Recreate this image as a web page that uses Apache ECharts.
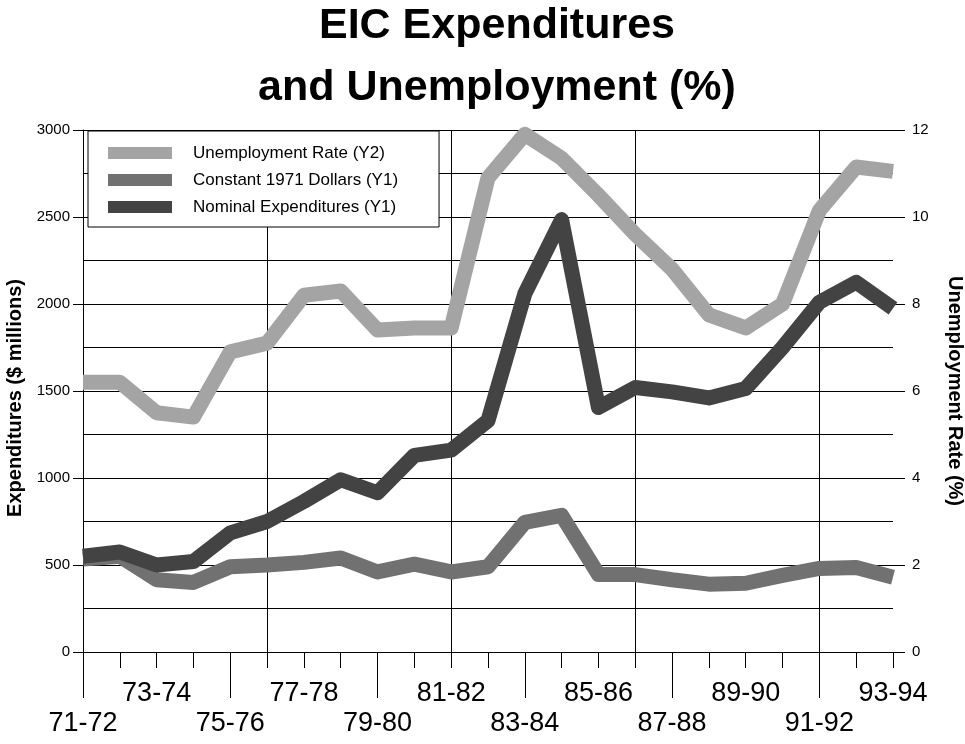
<!DOCTYPE html>
<html>
<head>
<meta charset="utf-8">
<script src="https://cdn.jsdelivr.net/npm/echarts@6/dist/echarts.min.js"></script>
<style>
html,body{margin:0;padding:0;background:#fff;}
#chart{width:965px;height:744px;}
</style>
</head>
<body>
<div id="chart"></div>
<script>
const categories = ['71-72','72-73','73-74','74-75','75-76','76-77','77-78','78-79','79-80','80-81','81-82','82-83','83-84','84-85','85-86','86-87','87-88','88-89','89-90','90-91','91-92','92-93','93-94'];
const unemploymentRate = [6.2, 6.2, 5.5, 5.4, 6.9, 7.1, 8.2, 8.3, 7.4, 7.45, 7.45, 10.9, 11.9, 11.35, 10.5, 9.6, 8.8, 7.75, 7.45, 8.0, 10.15, 11.15, 11.05];
const constantDollars = [535, 550, 415, 400, 490, 500, 515, 540, 460, 505, 460, 490, 745, 785, 445, 445, 415, 390, 395, 440, 480, 485, 430];
const nominalExpenditures = [550, 575, 500, 520, 685, 750, 865, 990, 915, 1130, 1160, 1330, 2060, 2485, 1405, 1520, 1495, 1460, 1515, 1750, 2010, 2125, 1975];
const seriesNames = ['Unemployment Rate (Y2)', 'Constant 1971 Dollars (Y1)', 'Nominal Expenditures (Y1)'];
const leftTicks = [0, 3000, 500];
const rightTicks = [0, 12, 2];

const FONT = "'Liberation Sans', Arial, sans-serif";

const cUnemp = '#a4a4a4';
const cConst = '#717171';
const cNom = '#434343';

const chart = echarts.init(document.getElementById('chart'), null, { renderer: 'canvas' });

const black = '#000';
chart.setOption({
  backgroundColor: '#fff',
  animation: false,
  textStyle: { fontFamily: FONT },
  title: [
    { text: 'EIC Expenditures', left: 497, top: 5, textAlign: 'center', padding: 0,
      textStyle: { fontSize: 43, fontWeight: 'bold', color: black, fontFamily: FONT, lineHeight: 43 } },
    { text: 'and Unemployment (%)', left: 497, top: 67, textAlign: 'center', padding: 0,
      textStyle: { fontSize: 43, fontWeight: 'bold', color: black, fontFamily: FONT, lineHeight: 43 } }
  ],
  legend: {
    left: 88, top: 131, orient: 'vertical',
    itemWidth: 64, itemHeight: 12, itemGap: 7,
    padding: [12, 41, 10, 20],
    borderColor: black, borderWidth: 1, backgroundColor: '#fff',
    icon: 'rect', selectedMode: false,
    textStyle: { fontSize: 17, color: black, lineHeight: 20, padding: [0, 0, 0, 16], fontFamily: FONT },
    data: seriesNames
  },
  grid: { left: 83, right: 72, top: 130, bottom: 92, containLabel: false, outerBoundsMode: 'none' },
  xAxis: [
    {
      type: 'category', data: categories, boundaryGap: false, position: 'bottom',
      axisLine: { show: true, lineStyle: { color: black, width: 1 } },
      axisTick: { show: true, interval: 0, length: 16, lineStyle: { color: black } },
      axisLabel: { interval: (i) => i % 4 === 2, margin: 28, fontSize: 27, color: black, fontFamily: FONT, lineHeight: 27 },
      splitLine: { show: true, interval: (i) => i % 5 === 0, lineStyle: { color: black, width: 1 } }
    },
    {
      type: 'category', data: categories, boundaryGap: false, position: 'bottom', gridIndex: 0,
      axisLine: { show: false },
      axisTick: { show: true, interval: (i) => i % 4 === 0, length: 46, lineStyle: { color: black } },
      axisLabel: { interval: (i) => i % 4 === 0, margin: 58, fontSize: 27, color: black, fontFamily: FONT, lineHeight: 27 },
      splitLine: { show: false }
    }
  ],
  yAxis: [
    {
      type: 'value', min: leftTicks[0], max: leftTicks[1], interval: leftTicks[2], position: 'left',
      name: 'Expenditures ($ millions)', nameLocation: 'middle', nameRotate: 90, nameGap: 57,
      nameTextStyle: { fontSize: 20, fontWeight: 'bold', color: black, fontFamily: FONT, padding: [0, 14, 0, 0] },
      axisLine: { show: true, lineStyle: { color: black, width: 1 } },
      axisTick: { show: true, length: 10, lineStyle: { color: black } },
      axisLabel: { fontSize: 15, color: black, margin: 13, fontFamily: FONT, formatter: (v) => String(v) },
      splitLine: { show: true, lineStyle: { color: black, width: 1 } },
      minorTick: { show: false, splitNumber: 2 },
      minorSplitLine: { show: true, lineStyle: { color: black, width: 1 } }
    },
    {
      type: 'value', min: rightTicks[0], max: rightTicks[1], interval: rightTicks[2], position: 'right',
      name: 'Unemployment Rate (%)', nameLocation: 'middle', nameRotate: -90, nameGap: 52,
      nameTextStyle: { fontSize: 20, fontWeight: 'bold', color: black, fontFamily: FONT },
      axisLine: { show: false },
      axisTick: { show: true, length: 12, lineStyle: { color: black } },
      axisLabel: { fontSize: 15, color: black, margin: 19, fontFamily: FONT, formatter: (v) => String(v) },
      splitLine: { show: false }
    }
  ],
  series: [
    { name: seriesNames[0], type: 'line', data: unemploymentRate, xAxisIndex: 0, yAxisIndex: 1,
      symbol: 'none', showSymbol: false, smooth: false, color: cUnemp,
      lineStyle: { width: 15, color: cUnemp, join: 'round', cap: 'butt' }, emphasis: { disabled: true }, z: 2 },
    { name: seriesNames[1], type: 'line', data: constantDollars, xAxisIndex: 0, yAxisIndex: 0,
      symbol: 'none', showSymbol: false, smooth: false, color: cConst,
      lineStyle: { width: 15, color: cConst, join: 'round', cap: 'butt' }, emphasis: { disabled: true }, z: 3 },
    { name: seriesNames[2], type: 'line', data: nominalExpenditures, xAxisIndex: 0, yAxisIndex: 0,
      symbol: 'none', showSymbol: false, smooth: false, color: cNom,
      lineStyle: { width: 15, color: cNom, join: 'round', cap: 'butt' }, emphasis: { disabled: true }, z: 4 }
  ]
});
</script>
</body>
</html>
